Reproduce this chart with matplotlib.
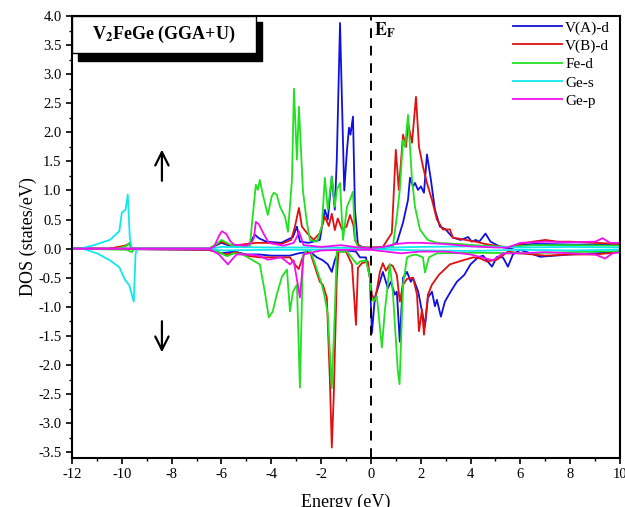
import matplotlib
matplotlib.use("Agg")
import matplotlib.pyplot as plt
from matplotlib.patches import Rectangle
from matplotlib.ticker import MultipleLocator

OUTPUT = "out.png"

# ---- V(A)-d ----
va_up_x = [-12, -6.5, -6.0, -5.6, -5.0, -4.86, -4.66, -4.5, -4.2, -3.6, -3.13, -2.97, -2.85, -2.5,
           -2.05, -1.85, -1.73, -1.57, -1.45, -1.37, -1.24, -1.12, -1.07, -0.96, -0.88, -0.82, -0.72,
           -0.64, -0.52, -0.3, 0.5, 1.04, 1.29, 1.49, 1.57, 1.69, 1.77, 1.89, 2.01, 2.13, 2.25, 2.41,
           2.57, 2.77, 3.0, 3.29, 3.6, 3.9, 4.05, 4.2, 4.35, 4.6, 4.8, 5.2, 5.6, 6.0, 6.5, 7.0, 8.0,
           9.0, 10.0]
va_up_y = [0, 0.0, 0.10, 0.04, 0.05, 0.10, 0.24, 0.18, 0.12, 0.10, 0.20, 0.38, 0.12, 0.10,
           0.15, 0.67, 0.50, 1.24, 0.67, 1.53, 3.88, 1.82, 1.00, 1.70, 2.08, 1.96, 2.27,
           0.67, 0.06, 0.02, 0.0, 0.10, 0.45, 0.84, 1.22, 1.07, 1.13, 1.01, 1.07, 0.96, 1.62, 1.18,
           0.67, 0.38, 0.33, 0.19, 0.15, 0.20, 0.12, 0.15, 0.12, 0.26, 0.12, 0.03, 0.0, 0.06, 0.08,
           0.08, 0.07, 0.07, 0.06]
va_dn_x = [-12, -6.5, -6.0, -5.5, -5.0, -4.5, -4.0, -3.25, -2.9, -2.45, -2.17, -1.93, -1.73, -1.57,
           -1.45, -1.3, -1.0, -0.6, -0.44, -0.2, -0.04, 0.04, 0.16, 0.36, 0.48, 0.68, 0.80, 0.96,
           1.04, 1.16, 1.29, 1.45, 1.6, 1.69, 1.9, 2.05, 2.17, 2.29, 2.45, 2.57, 2.65, 2.81, 2.97,
           3.2, 3.45, 3.75, 4.0, 4.3, 4.5, 4.86, 5.06, 5.3, 5.5, 5.7, 6.0, 6.8, 8.0, 9.0, 10.0]
va_dn_y = [0, -0.02, -0.08, -0.05, -0.1, -0.1, -0.12, -0.12, -0.08, -0.05, -0.15, -0.2, -0.27, -0.40,
           -0.2, -0.05, -0.03, -0.05, -0.15, -0.15, -0.5, -1.45, -0.84, -0.57, -0.4, -0.68, -0.57, -0.79,
           -0.74, -1.6, -0.5, -0.4, -0.57, -0.5, -0.74, -1.08, -1.34, -0.84, -0.74, -0.99, -0.88, -1.17, -0.91,
           -0.74, -0.57, -0.45, -0.27, -0.15, -0.12, -0.31, -0.14, -0.15, -0.31, -0.1, -0.02, -0.14, -0.1,
           -0.08, -0.05]

# ---- V(B)-d ----
vb_up_x = [-12, -10.5, -9.9, -9.7, -9.6, -6.5, -6.0, -5.6, -5.0, -4.58, -4.2, -3.6, -3.2, -3.05, -2.89,
           -2.77, -2.57, -2.3, -2.05, -1.85, -1.69, -1.57, -1.45, -1.33, -1.16, -0.98, -0.84, -0.70,
           -0.64, -0.44, -0.2, 0.48, 0.84, 1.0, 1.12, 1.29, 1.41, 1.49, 1.65, 1.81, 1.93, 2.09, 2.25,
           2.45, 2.65, 2.89, 3.17, 3.29, 3.8, 4.2, 4.6, 5.0, 5.5, 6.0, 6.5, 7.0, 7.5, 8.0, 9.0, 10.0]
vb_up_y = [0, 0, 0.05, 0.08, 0, 0.0, 0.12, 0.05, 0.08, 0.10, 0.10, 0.08, 0.15, 0.38, 0.70,
           0.38, 0.27, 0.15, 0.27, 0.55, 0.39, 0.6, 0.32, 0.52, 0.33, 0.38, 0.58, 0.40,
           0.15, 0.03, 0.02, 0.03, 0.27, 1.70, 1.01, 1.96, 1.75, 2.16, 1.82, 2.61, 1.75, 1.41, 1.13,
           0.84, 0.50, 0.33, 0.33, 0.19, 0.15, 0.12, 0.08, 0.05, 0.02, 0.08, 0.12, 0.15, 0.12, 0.12,
           0.10, 0.08]
vb_dn_x = [-12, -6.5, -6.0, -5.78, -5.4, -5.0, -4.46, -4.0, -3.25, -3.0, -2.9, -2.7, -2.45, -2.05,
           -1.93, -1.77, -1.65, -1.57, -1.49, -1.37, -1.3, -1.0, -0.76, -0.6, -0.52, -0.36, -0.12,
           0.04, 0.16, 0.36, 0.48, 0.60, 0.76, 0.88, 1.04, 1.16, 1.29, 1.45, 1.69, 1.85, 1.93, 2.05,
           2.13, 2.29, 2.45, 2.73, 3.17, 3.7, 4.1, 4.4, 4.65, 5.06, 5.5, 6.0, 7.0, 8.0, 9.0, 10.0]
vb_dn_y = [0, -0.02, -0.08, -0.1, -0.06, -0.12, -0.15, -0.15, -0.15, -0.3, -0.35, -0.1, -0.05, -0.57,
           -0.62, -0.84, -2.22, -3.42, -2.5, -0.5, -0.05, -0.05, -0.27, -1.31, -0.33, -0.25, -0.22,
           -0.79, -0.9, -0.40, -0.25, -0.38, -0.27, -0.3, -0.45, -0.91, -0.62, -0.52, -0.5, -0.79, -1.42,
           -1.05, -1.48, -0.79, -0.62, -0.45, -0.27, -0.2, -0.15, -0.17, -0.22, -0.19, -0.05, -0.08,
           -0.12, -0.1, -0.1, -0.06]

# ---- Fe-d ----
fe_up_x = [-12, -10.2, -9.8, -9.7, -9.6, -6.5, -6.2, -6.0, -5.7, -5.4, -5.0, -4.86, -4.62, -4.54,
           -4.46, -4.34, -4.14, -3.98, -3.90, -3.78, -3.65, -3.45, -3.33, -3.17, -3.09, -2.97, -2.89,
           -2.73, -2.57, -2.45, -2.17, -1.97, -1.85, -1.73, -1.57, -1.45, -1.37, -1.24, -1.12, -0.96,
           -0.84, -0.72, -0.64, -0.52, -0.3, 0.6, 0.88, 1.04, 1.16, 1.29, 1.37, 1.49, 1.57, 1.65, 1.77,
           1.97, 2.17, 2.29, 2.65, 3.5, 4.5, 5.5, 6.5, 8.0, 10.0]
fe_up_y = [0, 0, 0.05, 0.1, 0.0, 0, 0.08, 0.15, 0.08, 0.03, 0.03, 0.05, 1.10, 1.01,
           1.18, 0.93, 0.58, 0.90, 0.96, 0.93, 0.72, 0.55, 0.29, 1.18, 2.75, 1.53, 2.44,
           1.0, 0.45, 0.15, 0.12, 0.38, 1.22, 0.67, 1.24, 0.72, 1.01, 1.13, 0.15, 0.72,
           0.84, 0.98, 0.15, 0.03, 0.02, 0.02, 0.03, 0.55, 1.01, 1.87, 1.75, 2.30, 1.75, 1.18, 0.72,
           0.33, 0.21, 0.15, 0.10, 0.08, 0.05, 0.03, 0.06, 0.06, 0.05]
fe_dn_x = [-12, -9.8, -9.6, -9.5, -6.5, -6.3, -5.78, -5.5, -5.14, -4.46, -4.26, -4.1, -3.94, -3.78,
           -3.57, -3.37, -3.25, -3.13, -2.97, -2.85, -2.73, -2.57, -2.45, -2.33, -1.97, -1.85, -1.73,
           -1.57, -1.45, -1.37, -0.96, -0.56, -0.44, -0.2, -0.04, 0.0, 0.1, 0.24, 0.44, 0.56, 0.76,
           0.88, 1.08, 1.15, 1.29, 1.45, 1.6, 1.8, 2.09, 2.17, 2.33, 2.65, 4.4, 6.0, 8.0, 10.0]
fe_dn_y = [0, -0.02, -0.06, 0, 0, -0.02, -0.13, -0.08, -0.1, -0.27, -0.74, -1.18, -1.08, -0.79,
           -0.48, -0.36, -1.08, -0.74, -0.62, -2.39, -0.15, -0.02, -0.05, -0.15, -0.62, -0.84, -1.13,
           -2.4, -1.08, -0.05, -0.05, -0.27, -0.22, -0.2, -0.5, -0.84, -0.9, -0.82, -1.70, -1.07, -0.27,
           -0.74, -2.1, -2.33, -0.62, -0.15, -0.12, -0.1, -0.15, -0.41, -0.15, -0.08, -0.07, -0.08,
           -0.06, -0.04]

# ---- Ge-s ----
ges_up_x = [-12, -11.69, -11.2, -10.48, -10.1, -10.0, -9.85, -9.76, -9.68, -9.6, -6.5, -6.0, -4.0,
            -2.0, 0.0, 2.0, 4.0, 6.0, 8.0, 10.0]
ges_up_y = [0, 0, 0.05, 0.15, 0.3, 0.62, 0.67, 0.93, 0.2, 0, 0, 0.03, 0.02, 0.02, 0.01, 0.03, 0.04,
            0.02, 0.03, 0.02]
ges_dn_x = [-12, -11.57, -11.0, -10.48, -10.1, -9.88, -9.7, -9.52, -9.45, -9.4, -6.5, -6.0, -4.0,
            -2.0, 0.0, 2.0, 4.0, 6.0, 8.0, 10.0]
ges_dn_y = [0, 0, -0.08, -0.2, -0.32, -0.53, -0.63, -0.91, -0.1, 0, 0, -0.03, -0.02, -0.02, -0.01,
            -0.03, -0.04, -0.02, -0.03, -0.02]

# ---- Ge-p ----
gep_up_x = [-12, -6.5, -6.3, -6.1, -5.98, -5.8, -5.65, -5.5, -5.0, -4.8, -4.7, -4.62, -4.5, -4.3,
            -4.1, -3.5, -3.1, -2.97, -2.89, -2.7, -2.0, -1.2, -0.5, 0.0, 0.5, 1.0, 1.5, 2.0, 2.5,
            3.0, 3.5, 4.0, 5.0, 5.5, 6.0, 7.0, 8.0, 9.0, 9.3, 9.6, 10.0]
gep_up_y = [0, 0, 0.03, 0.22, 0.30, 0.25, 0.13, 0.07, 0.05, 0.10, 0.18, 0.46, 0.42, 0.25,
            0.10, 0.05, 0.10, 0.20, 0.30, 0.06, 0.03, 0.06, 0.02, 0.01, 0.03, 0.08, 0.10, 0.10, 0.09,
            0.08, 0.06, 0.04, 0.02, 0.02, 0.10, 0.12, 0.11, 0.12, 0.18, 0.10, 0.10]
gep_dn_x = [-12, -6.5, -6.1, -5.74, -5.4, -5.0, -4.5, -4.14, -3.6, -3.25, -3.1, -2.85, -2.7, -2.0,
            -1.0, 0.0, 1.2, 2.0, 3.0, 4.0, 4.9, 5.3, 6.0, 7.0, 8.0, 9.0, 9.4, 9.7, 10.0]
gep_dn_y = [0, 0, -0.1, -0.27, -0.1, -0.1, -0.12, -0.19, -0.15, -0.27, -0.2, -0.84, -0.1, -0.03,
            -0.02, -0.02, -0.08, -0.05, -0.05, -0.1, -0.2, -0.08, -0.08, -0.06, -0.08, -0.1, -0.17,
            -0.08, -0.06]

SERIES = [
    ("V(A)-d", "#1010e0", va_up_x, va_up_y, va_dn_x, va_dn_y),
    ("V(B)-d", "#e01010", vb_up_x, vb_up_y, vb_dn_x, vb_dn_y),
    ("Fe-d", "#22e022", fe_up_x, fe_up_y, fe_dn_x, fe_dn_y),
    ("Ge-s", "#10e8f0", ges_up_x, ges_up_y, ges_dn_x, ges_dn_y),
    ("Ge-p", "#f010f0", gep_up_x, gep_up_y, gep_dn_x, gep_dn_y),
]


def plot():
    plt.rcParams["font.family"] = ["Liberation Serif", "DejaVu Serif"]
    plt.rcParams["mathtext.fontset"] = "stix"
    plt.rcParams["axes.unicode_minus"] = False

    fig = plt.figure(figsize=(6.25, 5.07), dpi=100)
    ax = fig.add_axes([0.1152, 0.0966, 0.8768, 0.8718])

    for name, color, ux, uy, dx, dy in SERIES:
        ax.plot(ux, uy, color=color, lw=1.3, label=name)
        ax.plot(dx, dy, color=color, lw=1.3)

    ax.axvline(0, color="black", ls=(0, (5, 4)), lw=1.4)

    ax.set_xlim(-12, 10)
    ax.set_ylim(-3.6, 4.0)
    ax.xaxis.set_major_locator(MultipleLocator(2))
    ax.xaxis.set_minor_locator(MultipleLocator(1))
    ax.yaxis.set_major_locator(MultipleLocator(0.5))
    ax.yaxis.set_minor_locator(MultipleLocator(0.25))
    ax.yaxis.set_major_formatter(plt.FormatStrFormatter("%.1f"))
    ax.tick_params(which="major", direction="out", length=4, width=1.2, labelsize=10.5)
    ax.tick_params(which="minor", direction="out", length=2.5, width=1.0)
    for s in ax.spines.values():
        s.set_linewidth(1.5)

    ax.set_xlabel("Energy (eV)", fontsize=13, labelpad=9)
    ax.set_ylabel("DOS (states/eV)", fontsize=13, labelpad=1)

    # title box with shadow
    ax.add_patch(Rectangle((0.011, 0.898), 0.336, 0.088, transform=ax.transAxes,
                           facecolor="black", edgecolor="black", zorder=5, clip_on=False))
    ax.add_patch(Rectangle((0.0, 0.916), 0.336, 0.084, transform=ax.transAxes,
                           facecolor="white", edgecolor="black", lw=1.0, zorder=6, clip_on=False))
    ax.text(0.168, 0.958, r"V$_\mathbf{2}$FeGe (GGA+U)", transform=ax.transAxes,
            ha="center", va="center", fontsize=13, fontweight="bold", zorder=7)

    ax.text(0.12, 3.92, r"$\mathbf{E_F}$", ha="left", va="top", fontsize=13)

    ax.annotate("", xy=(-8.39, 1.75), xytext=(-8.39, 1.12),
                arrowprops=dict(arrowstyle="->", lw=1.6, color="black", mutation_scale=24))
    ax.annotate("", xy=(-8.39, -1.83), xytext=(-8.39, -1.2),
                arrowprops=dict(arrowstyle="->", lw=1.6, color="black", mutation_scale=24))

    ax.legend(loc="upper right", bbox_to_anchor=(1.0, 1.012), frameon=False, fontsize=11,
              handlelength=3.2, handletextpad=0.2, labelspacing=0.3, borderpad=0.15)

    fig.savefig(OUTPUT, dpi=100)


def main():
    plot()


if __name__ == "__main__":
    main()
